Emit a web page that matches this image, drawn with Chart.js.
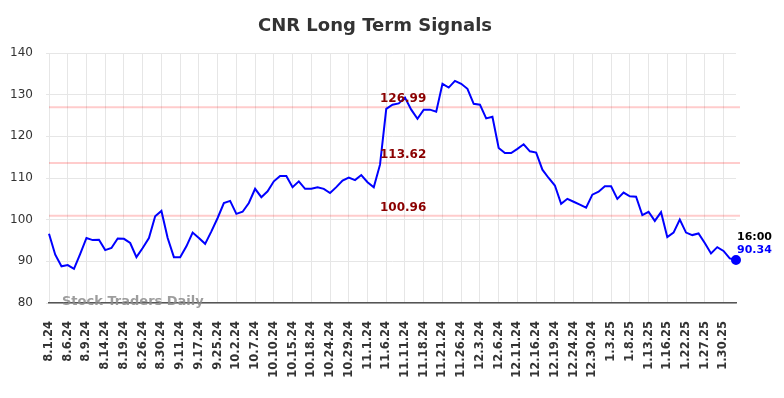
<!DOCTYPE html>
<html>
<head>
<meta charset="utf-8">
<script src="https://cdn.jsdelivr.net/npm/chart.js@4.4.1/dist/chart.umd.min.js"></script>
<style>
  html, body { margin: 0; padding: 0; background: #fff; }
  #wrap { width: 784px; height: 398px; position: relative; }
</style>
</head>
<body>
<div id="wrap"><canvas id="c" width="784" height="398"></canvas></div>
<script>
const chartTitle = "CNR Long Term Signals";
const watermark = "Stock Traders Daily";
const lastTime = "16:00";

// x tick labels (every third trading day is labelled)
const dateLabels = ["8.1.24","8.6.24","8.9.24","8.14.24","8.19.24","8.26.24","8.30.24","9.11.24","9.17.24","9.25.24",
  "10.2.24","10.7.24","10.10.24","10.15.24","10.18.24","10.24.24","10.29.24","11.1.24","11.6.24","11.11.24",
  "11.18.24","11.21.24","11.26.24","12.3.24","12.6.24","12.11.24","12.16.24","12.19.24","12.24.24","12.30.24",
  "1.3.25","1.8.25","1.13.25","1.16.25","1.22.25","1.27.25","1.30.25"];
const labelEvery = 3;

// closing prices
const prices = [96.6,91.6,88.8,89.1,88.2,91.8,95.6,95.1,95.2,92.7,
  93.2,95.5,95.4,94.4,91.0,93.2,95.6,100.8,102.1,95.6,
  91.0,91.0,93.6,96.9,95.6,94.2,97.2,100.4,104.0,104.5,
  101.4,101.9,104.0,107.4,105.4,106.8,109.2,110.5,110.5,107.8,
  109.2,107.4,107.4,107.8,107.4,106.4,107.8,109.4,110.1,109.5,
  110.7,109.0,107.8,113.2,126.6,127.6,127.9,129.3,126.4,124.2,
  126.4,126.4,125.9,132.6,131.7,133.3,132.6,131.4,127.8,127.6,
  124.3,124.7,117.2,116.0,116.0,117.0,118.1,116.4,116.1,112.0,
  110.0,108.2,103.8,105.0,104.3,103.6,102.9,106.0,106.7,108.0,
  108.0,105.0,106.5,105.6,105.5,101.1,101.9,99.7,101.8,95.8,
  96.9,100.0,96.9,96.3,96.7,94.4,91.9,93.4,92.5,90.7,
  90.34];

// signal levels
const levels = [126.99, 113.62, 100.96];

const yTicks = [80, 90, 100, 110, 120, 130, 140];

const labels = prices.map((_, i) => (i % labelEvery === 0 && dateLabels[i / labelEvery]) ? dateLabels[i / labelEvery] : "");

const overlay = {
  id: "overlay",
  beforeDatasetsDraw(chart) {
    const { ctx, chartArea, scales } = chart;
    ctx.save();
    ctx.strokeStyle = "rgba(255,0,0,0.2)";
    ctx.lineWidth = 2;
    levels.forEach(v => {
      const y = scales.y.getPixelForValue(v);
      ctx.beginPath();
      ctx.moveTo(chartArea.left, y);
      ctx.lineTo(chartArea.right + 4, y);
      ctx.stroke();
    });
    ctx.restore();
  },
  afterDraw(chart) {
    const { ctx, chartArea, scales } = chart;
    ctx.save();
    // title
    ctx.fillStyle = "#333";
    ctx.font = "bold 18px 'DejaVu Sans'";
    ctx.textAlign = "center";
    ctx.textBaseline = "middle";
    ctx.fillText(chartTitle, 375, 26);
    // level labels
    ctx.fillStyle = "#8b0000";
    ctx.font = "bold 12px 'DejaVu Sans'";
    ctx.textAlign = "left";
    levels.forEach(v => {
      const y = scales.y.getPixelForValue(v);
      ctx.fillText(v.toFixed(2), 380, y - 8);
    });
    // watermark
    ctx.fillStyle = "rgba(140,140,140,0.85)";
    ctx.font = "bold 13px 'DejaVu Sans'";
    ctx.textAlign = "left";
    ctx.fillText(watermark, 62, chartArea.bottom - 1);
    // last value label
    const meta = chart.getDatasetMeta(0);
    const pt = meta.data[meta.data.length - 1];
    ctx.font = "bold 11px 'DejaVu Sans'";
    ctx.fillStyle = "#000";
    ctx.fillText(lastTime, pt.x + 1, pt.y - 23);
    ctx.fillStyle = "#0000ff";
    ctx.fillText(prices[prices.length - 1].toFixed(2), pt.x + 1, pt.y - 10);
    ctx.restore();
  }
};

new Chart(document.getElementById("c"), {
  type: "line",
  data: {
    labels: labels,
    datasets: [{
      data: prices,
      borderColor: "#0000ff",
      backgroundColor: "#0000ff",
      borderWidth: 2,
      tension: 0,
      fill: false,
      pointRadius: ctx => ctx.dataIndex === prices.length - 1 ? 4 : 0,
      pointHoverRadius: 0
    }]
  },
  options: {
    responsive: false,
    animation: false,
    devicePixelRatio: 1,
    layout: { padding: { top: 53, right: 48, left: 0, bottom: 0 } },
    plugins: {
      legend: { display: false },
      title: { display: false },
      tooltip: { enabled: false }
    },
    scales: {
      x: {
        type: "category",
        offset: false,
        grid: { color: "#e6e6e6", lineWidth: 1, drawTicks: false },
        border: { display: true, color: "#555", width: 1.5 },
        ticks: {
          autoSkip: false,
          maxRotation: 90,
          minRotation: 90,
          padding: 18,
          color: "#333",
          font: { family: "'DejaVu Sans'", size: 11.5, weight: "bold" },
          callback: function (val, idx) {
            const l = this.getLabelForValue(val);
            return l === "" ? null : l;
          }
        },
        afterFit: s => { s.height = 95; }
      },
      y: {
        min: 80,
        max: 140,
        afterBuildTicks: s => { s.ticks = yTicks.map(v => ({ value: v })); },
        grid: { color: "#e6e6e6", lineWidth: 1, tickLength: 3 },
        border: { display: false },
        ticks: {
          padding: 13,
          color: "#333",
          font: { family: "'DejaVu Sans'", size: 12 }
        },
        afterFit: s => { s.width = 49; }
      }
    }
  },
  plugins: [overlay]
});
</script>
</body>
</html>
